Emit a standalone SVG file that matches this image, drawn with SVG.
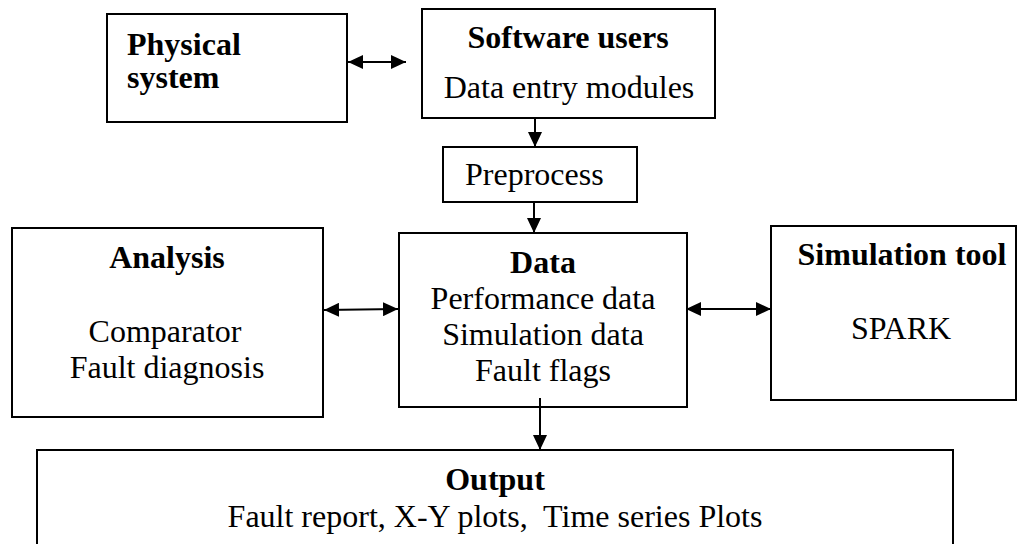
<svg xmlns="http://www.w3.org/2000/svg" width="1022" height="544" viewBox="0 0 1022 544">
  <style>
    .box { fill: #ffffff; stroke: #000000; stroke-width: 2; }
    .t { font-family: "Liberation Serif", "Times New Roman", serif; font-size: 32px; fill: #000000; }
    .b { font-weight: bold; }
    .c { text-anchor: middle; }
    .conn { stroke: #000000; stroke-width: 2; fill: none; }
  </style>
  <defs>
    <marker id="ah" viewBox="0 0 15 14" refX="15" refY="7" markerWidth="15" markerHeight="14" markerUnits="userSpaceOnUse" orient="auto-start-reverse">
      <path d="M0,0 L15,7 L0,14 z" fill="#000000"/>
    </marker>
  </defs>
  <rect width="1022" height="544" fill="#ffffff"/>

  <g id="physical-system">
    <rect class="box" x="107" y="14" width="240" height="108"/>
    <text class="t b" x="127" y="55">Physical</text>
    <text class="t b" x="127" y="88">system</text>
  </g>

  <g id="software-users">
    <rect class="box" x="422" y="9" width="293" height="109"/>
    <text class="t b c" x="568" y="48">Software users</text>
    <text class="t c" x="569" y="98">Data entry modules</text>
  </g>

  <g id="preprocess">
    <rect class="box" x="443" y="147" width="194" height="55"/>
    <text class="t" x="465" y="185">Preprocess</text>
  </g>

  <g id="data">
    <rect class="box" x="399" y="233" width="288" height="174"/>
    <text class="t b c" x="543" y="273">Data</text>
    <text class="t c" x="543" y="309">Performance data</text>
    <text class="t c" x="543" y="345">Simulation data</text>
    <text class="t c" x="543" y="381">Fault flags</text>
  </g>

  <g id="analysis">
    <rect class="box" x="12" y="228" width="311" height="189"/>
    <text class="t b c" x="167" y="268">Analysis</text>
    <text class="t c" x="165" y="342">Comparator</text>
    <text class="t c" x="167" y="378">Fault diagnosis</text>
  </g>

  <g id="simulation-tool">
    <rect class="box" x="771" y="226" width="245" height="174"/>
    <text class="t b c" x="902" y="265">Simulation tool</text>
    <text class="t c" x="901" y="339">SPARK</text>
  </g>

  <g id="output">
    <rect class="box" x="37" y="450" width="916" height="120"/>
    <text class="t b c" x="495" y="490">Output</text>
    <text class="t c" x="495" y="527" style="white-space:pre" xml:space="preserve">Fault report, X-Y plots,  Time series Plots</text>
  </g>

  <g id="connectors">
    <line class="conn" x1="348" y1="62" x2="406" y2="62" marker-start="url(#ah)" marker-end="url(#ah)"/>
    <line class="conn" x1="535" y1="118" x2="535" y2="147" marker-end="url(#ah)"/>
    <line class="conn" x1="534" y1="202" x2="534" y2="233" marker-end="url(#ah)"/>
    <line class="conn" x1="324" y1="310" x2="398" y2="309" marker-start="url(#ah)" marker-end="url(#ah)"/>
    <line class="conn" x1="686" y1="309" x2="771" y2="309" marker-start="url(#ah)" marker-end="url(#ah)"/>
    <line class="conn" x1="540" y1="398" x2="540" y2="450" marker-end="url(#ah)"/>
  </g>
</svg>
